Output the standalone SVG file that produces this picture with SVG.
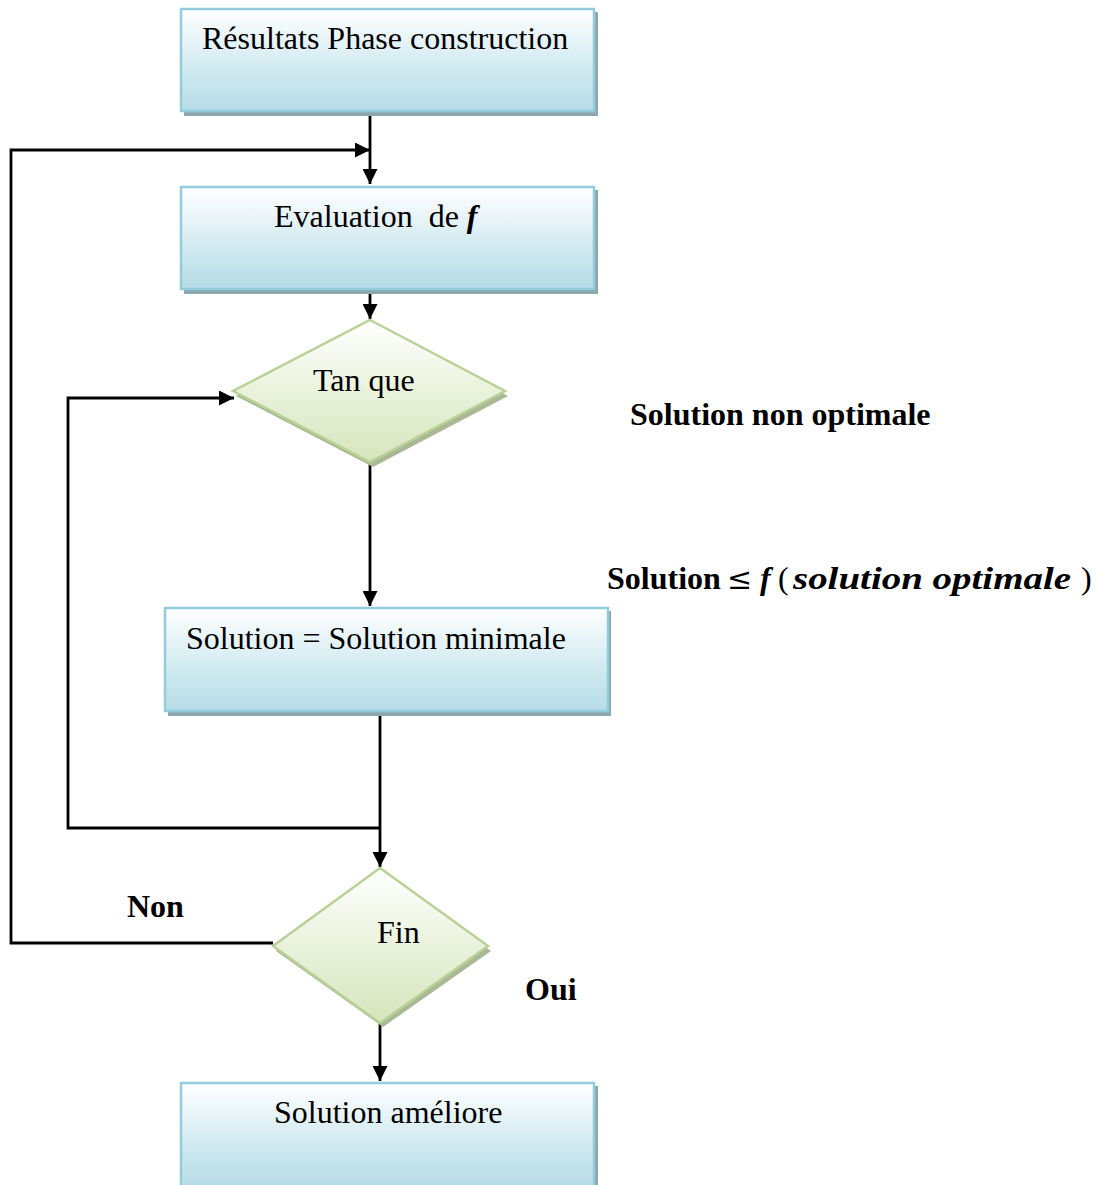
<svg xmlns="http://www.w3.org/2000/svg" width="1101" height="1185" viewBox="0 0 1101 1185">
  <defs>
    <linearGradient id="boxFill" x1="0" y1="0" x2="0" y2="1">
      <stop offset="0" stop-color="#ffffff"/>
      <stop offset="0.55" stop-color="#d3ebf1"/>
      <stop offset="1" stop-color="#b6dce6"/>
    </linearGradient>
    <linearGradient id="diamondFill" x1="0" y1="0" x2="0" y2="1">
      <stop offset="0" stop-color="#ffffff"/>
      <stop offset="0.5" stop-color="#eaf2dc"/>
      <stop offset="1" stop-color="#d6e5bc"/>
    </linearGradient>
    <marker id="arrow" viewBox="0 0 10 10" refX="10" refY="5" markerWidth="15" markerHeight="15" markerUnits="userSpaceOnUse" orient="auto">
      <path d="M0,0 L10,5 L0,10 Z" fill="#000"/>
    </marker>
  </defs>
  <style>
    .box { fill: url(#boxFill); stroke: #93cddd; stroke-width: 2.5; }
    .boxShadow { fill: #8ea7ae; }
    .diamond { fill: url(#diamondFill); stroke: #b9d196; stroke-width: 2.5; }
    .diamondShadow { fill: #a9b995; }
    .label { font-family: "Liberation Serif", "Times New Roman", serif; font-size: 32px; fill: #000; }
    .bold { font-weight: bold; }
    .math { font-family: "Liberation Serif", "Times New Roman", serif; font-weight: bold; font-style: italic; }
    .rel { font-family: "DejaVu Serif", serif; font-size: 30px; }
    .wire { fill: none; stroke: #000; stroke-width: 2.8; }
  </style>

  <rect width="1101" height="1185" fill="#ffffff"/>

  <g id="connectors">
    <path class="wire" d="M370,112 V184" marker-end="url(#arrow)"/>
    <path class="wire" d="M273,943 H11 V150 H370" marker-end="url(#arrow)"/>
    <path class="wire" d="M370,292 V319" marker-end="url(#arrow)"/>
    <path class="wire" d="M370,462 V606" marker-end="url(#arrow)"/>
    <path class="wire" d="M380,712 V867" marker-end="url(#arrow)"/>
    <path class="wire" d="M380,828 H68 V398 H234" marker-end="url(#arrow)"/>
    <path class="wire" d="M380,1023 V1081" marker-end="url(#arrow)"/>
  </g>

  <g id="node-resultats">
    <rect class="boxShadow" x="184" y="12" width="414" height="104"/>
    <rect class="box" x="181" y="9" width="413" height="102"/>
    <text class="label" x="202" y="49">Résultats Phase construction</text>
  </g>

  <g id="node-evaluation">
    <rect class="boxShadow" x="184" y="190" width="414" height="104"/>
    <rect class="box" x="181" y="187" width="413" height="102"/>
    <text class="label" x="274" y="227" xml:space="preserve">Evaluation  de <tspan class="math">f</tspan></text>
  </g>

  <g id="node-tanque">
    <polygon class="diamondShadow" points="373,324 508,396 373,467 236,396"/>
    <polygon class="diamond" points="370,320 505,391 370,462 233,391"/>
    <text class="label" x="313" y="391">Tan que</text>
  </g>

  <g id="node-solution-minimale">
    <rect class="boxShadow" x="168" y="611" width="443" height="105"/>
    <rect class="box" x="165" y="608" width="443" height="103"/>
    <text class="label" x="186" y="649">Solution = Solution minimale</text>
  </g>

  <g id="node-fin">
    <polygon class="diamondShadow" points="383,872 491,951 383,1027 276,951"/>
    <polygon class="diamond" points="380,868 488,946 380,1023 273,946"/>
    <text class="label" x="377" y="943">Fin</text>
  </g>

  <g id="node-solution-amelioree">
    <rect class="boxShadow" x="184" y="1086" width="414" height="104"/>
    <rect class="box" x="181" y="1083" width="413" height="104"/>
    <text class="label" x="274" y="1123">Solution améliore</text>
  </g>

  <g id="labels">
    <text class="label bold" x="630" y="425">Solution non optimale</text>
    <text class="label bold" x="607" y="589">Solution</text>
    <text class="label rel" x="727" y="589">≤</text>
    <text class="label math" x="760" y="589">f</text>
    <text class="label" x="778" y="589">(</text>
    <text class="label math" x="793" y="589" textLength="278" lengthAdjust="spacingAndGlyphs">solution optimale</text>
    <text class="label" x="1081" y="589">)</text>
    <text class="label bold" x="127" y="917">Non</text>
    <text class="label bold" x="525" y="1000">Oui</text>
  </g>
</svg>
